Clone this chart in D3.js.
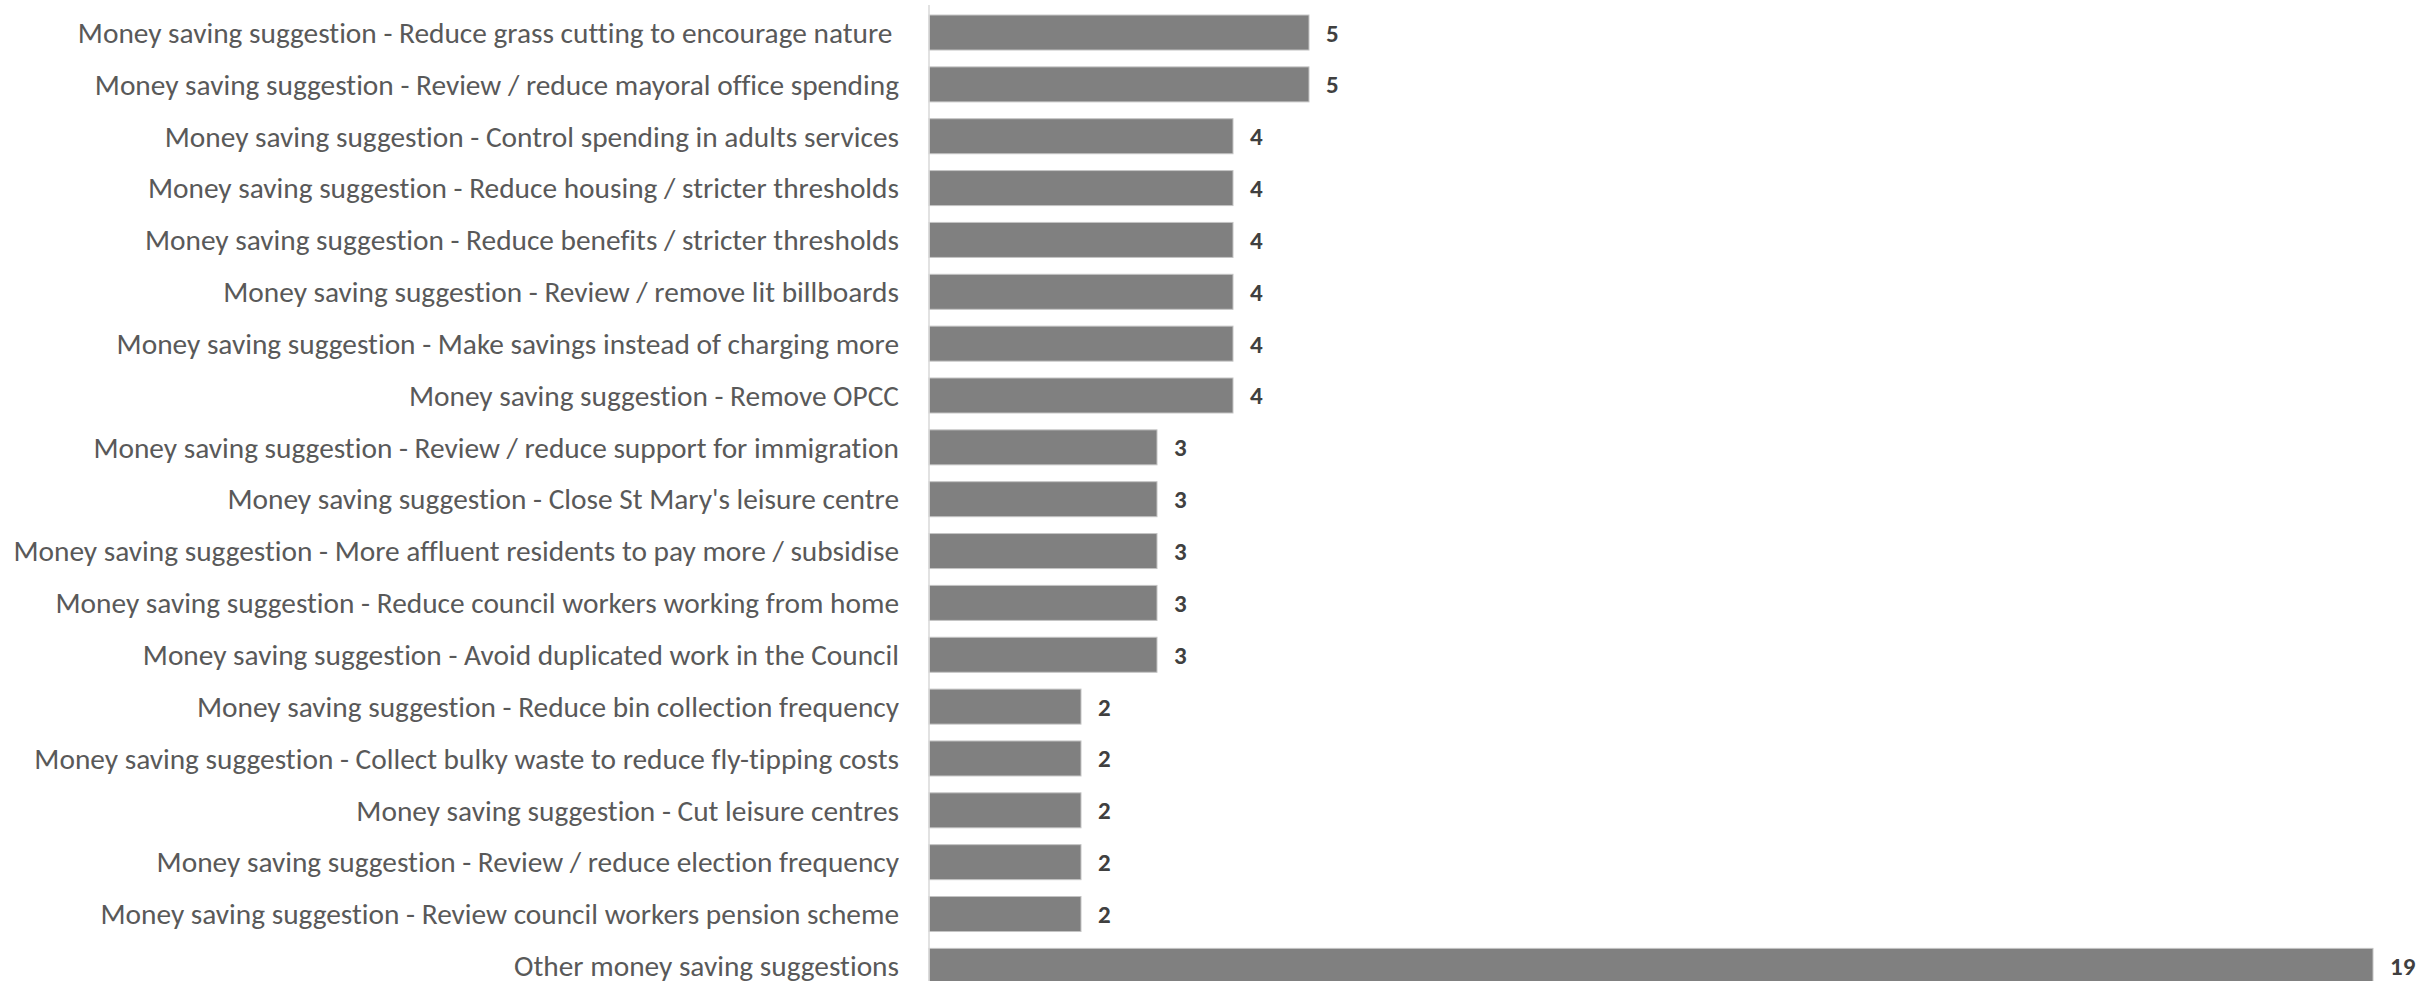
<!DOCTYPE html>
<html>
<head>
<meta charset="utf-8">
<script src="https://cdn.jsdelivr.net/npm/d3@7"></script>
<style>
  body { margin: 0; background: #fff; }
  svg { display: block; }
  text { font-variant-ligatures: none; }
</style>
</head>
<body>
<svg id="chart"></svg>
<script>
// categories, top to bottom
const categories = [
  "Money saving suggestion - Reduce grass cutting to encourage nature ",
  "Money saving suggestion - Review / reduce mayoral office spending",
  "Money saving suggestion - Control spending in adults services",
  "Money saving suggestion - Reduce housing / stricter thresholds",
  "Money saving suggestion - Reduce benefits / stricter thresholds",
  "Money saving suggestion - Review / remove lit billboards",
  "Money saving suggestion - Make savings instead of charging more",
  "Money saving suggestion - Remove OPCC",
  "Money saving suggestion - Review / reduce support for immigration",
  "Money saving suggestion - Close St Mary's leisure centre",
  "Money saving suggestion - More affluent residents to pay more / subsidise",
  "Money saving suggestion - Reduce council workers working from home",
  "Money saving suggestion - Avoid duplicated work in the Council",
  "Money saving suggestion - Reduce bin collection frequency",
  "Money saving suggestion - Collect bulky waste to reduce fly-tipping costs",
  "Money saving suggestion - Cut leisure centres",
  "Money saving suggestion - Review / reduce election frequency",
  "Money saving suggestion - Review council workers pension scheme",
  "Other money saving suggestions"
];
const counts = [5, 5, 4, 4, 4, 4, 4, 4, 3, 3, 3, 3, 3, 2, 2, 2, 2, 2, 19];

const width = 2419, height = 981;
const axisX = 929;

const svg = d3.select('#chart')
  .attr('width', width)
  .attr('height', height);

const x = d3.scaleLinear()
  .domain([0, 19])
  .range([axisX, 2373]);

const y = d3.scaleBand()
  .domain(categories)
  .range([6.6, 991.8])
  .paddingInner(0.325)
  .paddingOuter(0.1625);

const rows = categories.map((c, i) => ({ name: c, value: counts[i] }));

// bars
svg.selectAll('rect.bar')
  .data(rows)
  .join('rect')
  .attr('class', 'bar')
  .attr('x', x(0))
  .attr('y', d => y(d.name))
  .attr('width', d => x(d.value) - x(0))
  .attr('height', y.bandwidth())
  .style('fill', '#808080')
  .style('stroke', '#c4c4c4')
  .style('stroke-width', 1);

// vertical axis line
svg.append('line')
  .attr('x1', axisX).attr('x2', axisX)
  .attr('y1', 5).attr('y2', height)
  .style('stroke', '#d9d9d9')
  .style('stroke-width', 1.5);

// category labels
const labels = svg.selectAll('text.cat')
  .data(rows)
  .join('text')
  .attr('class', 'cat')
  .text(d => d.name)
  .attr('x', axisX - 30)
  .attr('y', d => y(d.name) + y.bandwidth() / 2)
  .attr('dy', '0.35em')
  .attr('text-anchor', 'end')
  .attr('fill', '#595959')
  .style('font-family', 'Carlito, Lato, sans-serif')
  .style('white-space', 'pre')
  .attr('font-size', '24px');

// fit font size so the longest label spans like the reference (~886px)
let longest = 0;
labels.each(function () { longest = Math.max(longest, this.getComputedTextLength()); });
const fitted = 24 * 886 / longest;
labels.attr('font-size', fitted + 'px');

// value labels
svg.selectAll('text.val')
  .data(rows)
  .join('text')
  .attr('class', 'val')
  .text(d => d.value)
  .attr('x', d => x(d.value) + 17)
  .attr('y', d => y(d.name) + y.bandwidth() / 2)
  .attr('dy', '0.36em')
  .attr('fill', '#404040')
  .attr('font-weight', 'bold')
  .style('font-family', 'Carlito, Lato, sans-serif')
  .attr('font-size', '25px');
</script>
</body>
</html>
